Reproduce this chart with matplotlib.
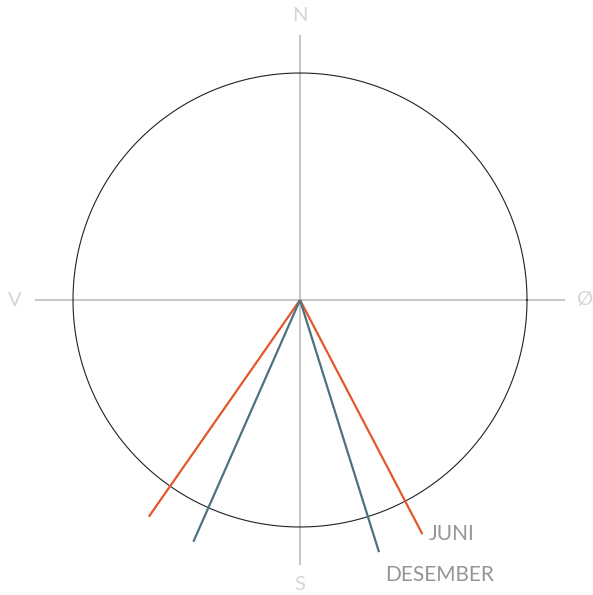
import numpy as np
import matplotlib.pyplot as plt

# azimuths in degrees (clockwise from north) of the sun lines
series = ["JUNI", "DESEMBER"]
azimuths = {
    "JUNI": [214.9, 152.4],
    "DESEMBER": [203.8, 162.6],
}
colors = {"JUNI": "#e4572e", "DESEMBER": "#4e7180"}
line_len = 1.164  # relative to circle radius
compass = ["N", "Ø", "S", "V"]
compass_az = [0, 90, 180, 270]

R_PX = 227.0
fig = plt.figure(figsize=(5.93, 5.95), dpi=100)
ax = fig.add_axes([0, 0, 1, 1])
ax.set_xlim(-300 / R_PX, 293 / R_PX)
ax.set_ylim(-295 / R_PX, 300 / R_PX)
ax.set_aspect("equal")
ax.axis("off")

# cross
ext = 1.164
ax.plot([-ext, ext], [0, 0], color="#c8c8c8", lw=1.5, zorder=1)
ax.plot([0, 0], [-ext, ext], color="#c8c8c8", lw=1.5, zorder=1)

# circle
t = np.linspace(0, 2 * np.pi, 400)
ax.plot(np.cos(t), np.sin(t), color="#222222", lw=0.8, zorder=2)

font = ["Lato", "DejaVu Sans"]
for lab, az in zip(compass, compass_az):
    a = np.radians(az)
    r = 1.255
    ax.text(r * np.sin(a), r * np.cos(a), lab, ha="center", va="center",
            fontsize=14.5, color="#d6d6d6", family=font, fontweight="normal")

for name in series:
    ends = []
    for az in azimuths[name]:
        a = np.radians(az)
        x, y = line_len * np.sin(a), line_len * np.cos(a)
        ax.plot([0, x], [0, y], color=colors[name], lw=1.6, zorder=3,
                solid_capstyle="butt")
        ends.append((x, y))
    # label right of the east-most end
    x, y = max(ends, key=lambda p: p[0])
    dy = 0 if name == "JUNI" else -23
    ax.annotate(name, (x, y), xytext=(6, dy), textcoords="offset pixels",
                ha="left", va="center", fontsize=15, color="#959595",
                family=font, fontweight="normal")

fig.savefig("out.png", dpi=100)
